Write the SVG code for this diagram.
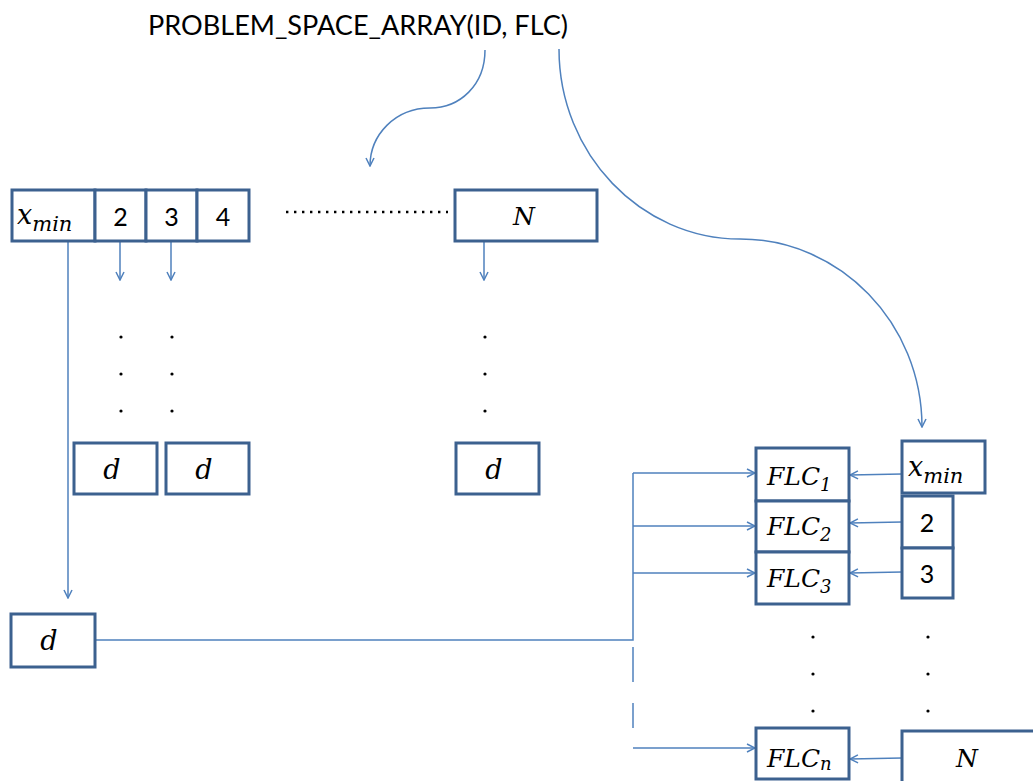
<svg xmlns="http://www.w3.org/2000/svg" width="1033" height="781" viewBox="0 0 1033 781">
  <defs>
    <marker id="arrow" viewBox="0 0 10 10" refX="9" refY="5" markerWidth="10" markerHeight="10" markerUnits="userSpaceOnUse" orient="auto">
      <path d="M1,1 L9,5 L1,9" fill="none" stroke="#4f81bd" stroke-width="1.5"/>
    </marker>
    <style>
      .box { fill: #ffffff; stroke: #3c618f; stroke-width: 3; }
      .conn { fill: none; stroke: #4f81bd; stroke-width: 1.5; }
      .math { font-family: "DejaVu Serif", "Liberation Serif", serif; font-style: italic; fill: #000; }
      .sans { font-family: Lato, "Liberation Sans", Arial, sans-serif; fill: #000; }
      .dot { fill: #000; }
    </style>
  </defs>
  <rect width="1033" height="781" fill="#ffffff"/>

  <!-- title -->
  <text class="sans" x="148" y="35" font-size="26" textLength="420" lengthAdjust="spacingAndGlyphs">PROBLEM_SPACE_ARRAY(ID, FLC)</text>

  <!-- connectors -->
  <g id="connectors">
    <path class="conn" d="M485,50 C485,85 460,108 430,108 C395,108 370,135 370,166" marker-end="url(#arrow)"/>
    <path class="conn" d="M559,49 C559,154 641,239 740,239 C840,239 922,323 922,427" marker-end="url(#arrow)"/>
    <line class="conn" x1="120" y1="242" x2="120" y2="280" marker-end="url(#arrow)"/>
    <line class="conn" x1="171" y1="242" x2="171" y2="280" marker-end="url(#arrow)"/>
    <line class="conn" x1="484" y1="242" x2="484" y2="280" marker-end="url(#arrow)"/>
    <line class="conn" x1="68" y1="242" x2="68" y2="598" marker-end="url(#arrow)"/>
    <polyline class="conn" points="95,640 633,640 633,473"/>
    <line class="conn" x1="633" y1="647" x2="633" y2="682"/>
    <line class="conn" x1="633" y1="703" x2="633" y2="728"/>
    <line class="conn" x1="633" y1="473" x2="755" y2="473" marker-end="url(#arrow)"/>
    <line class="conn" x1="633" y1="526" x2="755" y2="526" marker-end="url(#arrow)"/>
    <line class="conn" x1="633" y1="573" x2="755" y2="573" marker-end="url(#arrow)"/>
    <line class="conn" x1="633" y1="748" x2="755" y2="748" marker-end="url(#arrow)"/>
    <line class="conn" x1="902" y1="474" x2="850" y2="475" marker-end="url(#arrow)"/>
    <line class="conn" x1="902" y1="522" x2="850" y2="523" marker-end="url(#arrow)"/>
    <line class="conn" x1="902" y1="572" x2="850" y2="573" marker-end="url(#arrow)"/>
    <line class="conn" x1="902" y1="758" x2="850" y2="759" marker-end="url(#arrow)"/>
  </g>

  <!-- ellipsis marks -->
  <g id="ellipses">
    <line x1="286" y1="212" x2="448" y2="212" stroke="#000" stroke-width="2.4" stroke-dasharray="2.4 5.6"/>
    <circle class="dot" cx="121" cy="337" r="1.6"/>
    <circle class="dot" cx="121" cy="374" r="1.6"/>
    <circle class="dot" cx="121" cy="411" r="1.6"/>
    <circle class="dot" cx="172" cy="337" r="1.6"/>
    <circle class="dot" cx="172" cy="374" r="1.6"/>
    <circle class="dot" cx="172" cy="411" r="1.6"/>
    <circle class="dot" cx="485" cy="337" r="1.6"/>
    <circle class="dot" cx="485" cy="374" r="1.6"/>
    <circle class="dot" cx="485" cy="411" r="1.6"/>
    <circle class="dot" cx="813" cy="637" r="1.6"/>
    <circle class="dot" cx="813" cy="674" r="1.6"/>
    <circle class="dot" cx="813" cy="711" r="1.6"/>
    <circle class="dot" cx="928" cy="637" r="1.6"/>
    <circle class="dot" cx="928" cy="674" r="1.6"/>
    <circle class="dot" cx="928" cy="711" r="1.6"/>
  </g>

  <!-- top array -->
  <g id="cell-xmin">
    <rect class="box" x="12" y="190" width="83" height="51"/>
    <text class="math" x="17" y="224" font-size="27">x<tspan font-size="21" dy="7">min</tspan></text>
  </g>
  <g id="cell-2">
    <rect class="box" x="95" y="190" width="51" height="51"/>
    <text class="sans" x="120.5" y="226" font-size="25" text-anchor="middle">2</text>
  </g>
  <g id="cell-3">
    <rect class="box" x="146" y="190" width="51" height="51"/>
    <text class="sans" x="171.5" y="226" font-size="25" text-anchor="middle">3</text>
  </g>
  <g id="cell-4">
    <rect class="box" x="197" y="190" width="52" height="51"/>
    <text class="sans" x="223" y="226" font-size="25" text-anchor="middle">4</text>
  </g>
  <g id="cell-N">
    <rect class="box" x="455" y="190" width="142" height="51"/>
    <text class="math" x="524" y="225" font-size="25" text-anchor="middle">N</text>
  </g>

  <!-- d boxes -->
  <g id="d-2">
    <rect class="box" x="74" y="443" width="83" height="51"/>
    <text class="math" x="112" y="479" font-size="27" text-anchor="middle">d</text>
  </g>
  <g id="d-3">
    <rect class="box" x="166" y="443" width="83" height="51"/>
    <text class="math" x="204" y="479" font-size="27" text-anchor="middle">d</text>
  </g>
  <g id="d-N">
    <rect class="box" x="456" y="443" width="83" height="51"/>
    <text class="math" x="494" y="479" font-size="27" text-anchor="middle">d</text>
  </g>
  <g id="d-xmin">
    <rect class="box" x="11" y="614" width="84" height="53"/>
    <text class="math" x="49" y="650" font-size="27" text-anchor="middle">d</text>
  </g>

  <!-- FLC column -->
  <g id="flc-1">
    <rect class="box" x="756" y="448" width="93" height="53"/>
    <text class="math" x="767" y="485" font-size="25">FLC<tspan font-size="18" dy="6">1</tspan></text>
  </g>
  <g id="flc-2">
    <rect class="box" x="756" y="501" width="93" height="51"/>
    <text class="math" x="767" y="535" font-size="25">FLC<tspan font-size="18" dy="6">2</tspan></text>
  </g>
  <g id="flc-3">
    <rect class="box" x="756" y="552" width="93" height="52"/>
    <text class="math" x="767" y="587" font-size="25">FLC<tspan font-size="18" dy="6">3</tspan></text>
  </g>
  <g id="flc-n">
    <rect class="box" x="756" y="728" width="93" height="51"/>
    <text class="math" x="767" y="767" font-size="25">FLC<tspan font-size="18" dy="3">n</tspan></text>
  </g>

  <!-- index column -->
  <g id="idx-xmin">
    <rect class="box" x="902" y="441" width="83" height="52"/>
    <text class="math" x="908" y="476" font-size="27">x<tspan font-size="21" dy="7">min</tspan></text>
  </g>
  <g id="idx-2">
    <rect class="box" x="902" y="496" width="51" height="52"/>
    <text class="sans" x="927" y="532" font-size="25" text-anchor="middle">2</text>
  </g>
  <g id="idx-3">
    <rect class="box" x="902" y="548" width="51" height="50"/>
    <text class="sans" x="927" y="583" font-size="25" text-anchor="middle">3</text>
  </g>
  <g id="idx-N">
    <rect class="box" x="902" y="731" width="140" height="60"/>
    <text class="math" x="967" y="767" font-size="25" text-anchor="middle">N</text>
  </g>
</svg>
